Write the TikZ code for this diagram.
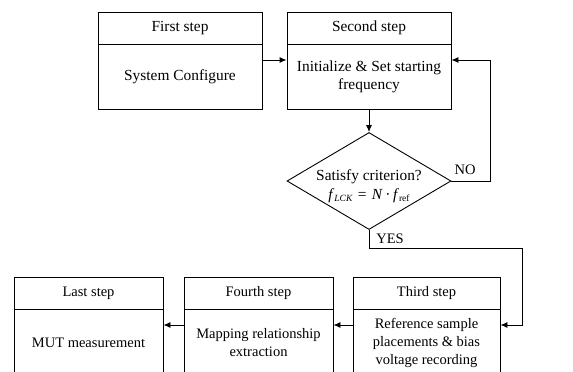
\documentclass[tikz,border=0pt]{standalone}
\usepackage{fontspec}
\setmainfont{Liberation Serif}
\usetikzlibrary{shapes.geometric,arrows.meta}
\begin{document}
\begin{tikzpicture}[x=1pt,y=-1pt,
  font=\fontsize{14.5}{18}\selectfont,
  line width=0.9pt,
  big/.style={font=\fontsize{15.4}{18}\selectfont},
  hdr/.style={draw,rectangle,inner sep=0pt,minimum height=32pt,align=center},
  body/.style={draw,rectangle,inner sep=0pt,align=center},
  arr/.style={-{Latex[length=7pt,width=6pt]}},
  lbl/.style={inner sep=0pt}]
\useasboundingbox (0,0) rectangle (573,372);
\clip (0,0) rectangle (573,372);
% top boxes
\node[hdr,big,minimum width=164pt] (h1) at (180,28) {First step};
\node[body,big,minimum width=164pt,minimum height=65pt] (b1) at (180,76.5) {System Configure};
\node[hdr,big,minimum width=164pt] (h2) at (369,28) {Second step};
\node[body,big,minimum width=164pt,minimum height=65pt] (b2) at (369,76.5) {Initialize \& Set starting\\frequency};
% diamond
\node[draw,diamond,minimum width=164pt,minimum height=97pt,inner sep=0pt] (d) at (369,181) {};
\node[lbl,big] (dt1) at (369,177) {Satisfy criterion?};
\node[lbl,big] (dt2) at (369,196) {\textit{f}\raisebox{-0.3ex}{\fontsize{9.5}{9.5}\selectfont\textit{LCK}}\,\,=\,\,\textit{N}\,·\,\textit{f}\raisebox{-0.3ex}{\fontsize{9.5}{9.5}\selectfont ref}};
% bottom boxes
\node[hdr,minimum width=149pt] (h5) at (88.5,293) {Last step};
\node[body,minimum width=149pt,minimum height=68pt] (b5) at (88.5,343) {MUT measurement};
\node[hdr,minimum width=149pt] (h4) at (258.5,293) {Fourth step};
\node[body,minimum width=149pt,minimum height=68pt] (b4) at (258.5,343) {Mapping relationship\\extraction};
\node[hdr,minimum width=147pt] (h3) at (426.5,293) {Third step};
\node[body,minimum width=147pt,minimum height=68pt] (b3) at (426.5,343) {Reference sample\\placements \& bias\\voltage recording};
% helper coordinates
\coordinate (ya) at (0,60);
\coordinate (yb) at (0,325);
\coordinate (nox) at (490,181);
\coordinate (yesy) at (369,248);
\coordinate (yesx) at (522,248);
% connectors
\draw[arr] (b1.east |- ya) -- (b2.west |- ya);
\draw[arr] (b2.south) -- (d.north);
\draw[arr] (d.east) -- (nox) |- (b2.east |- ya);
\draw[arr] (d.south) -- (yesy) -- (yesx) |- (b3.east |- yb);
\draw[arr] (b3.west |- yb) -- (b4.east |- yb);
\draw[arr] (b4.west |- yb) -- (b5.east |- yb);
% labels
\node[lbl] (no) at (465,170) {NO};
\node[lbl] (yes) at (390,239) {YES};
\end{tikzpicture}
\end{document}
